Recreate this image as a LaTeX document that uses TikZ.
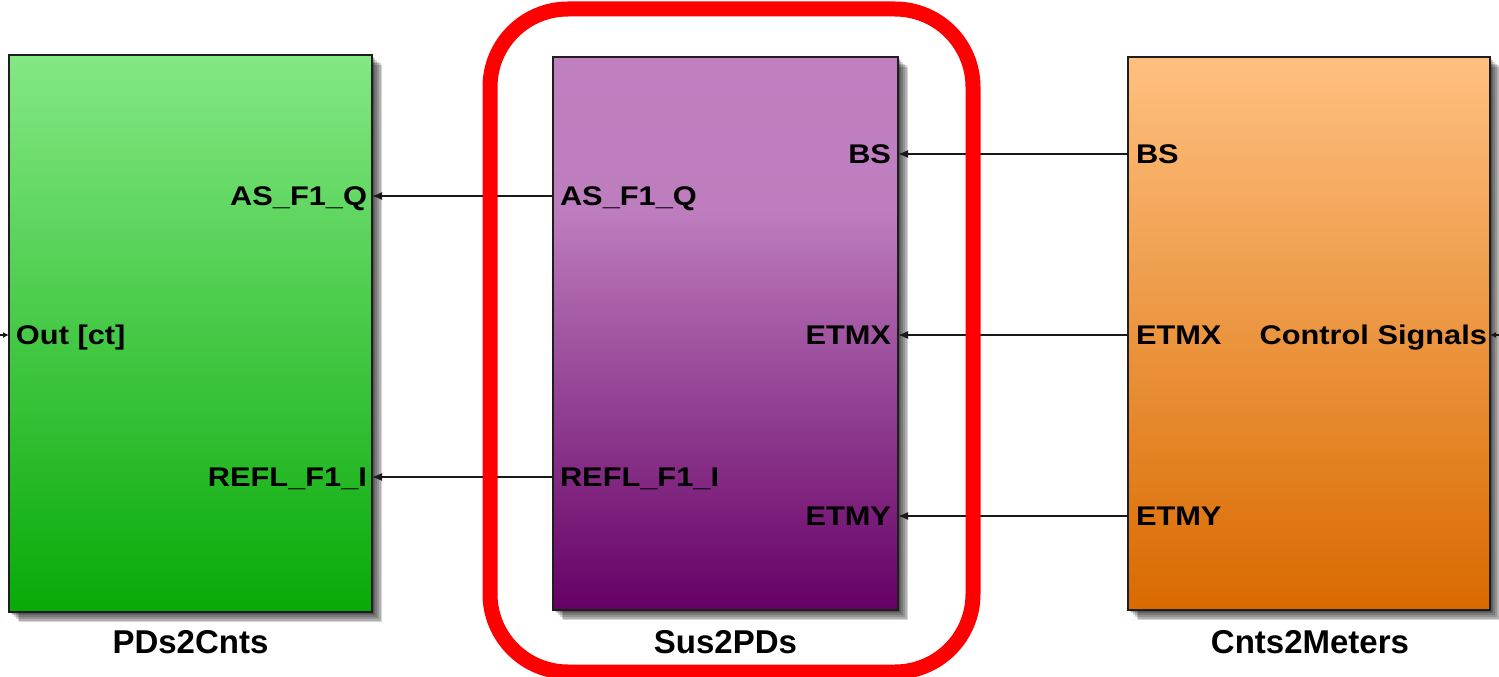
\documentclass[tikz,border=0pt]{standalone}
\usepackage{fontspec}
\setmainfont{Liberation Sans}
\newfontfamily\portfont{Liberation Sans}[FakeStretch=1.14]
\usetikzlibrary{arrows.meta,backgrounds}

\definecolor{greentop}{RGB}{132,232,132}
\definecolor{greenmid}{RGB}{88,212,88}
\definecolor{greenbot}{RGB}{8,170,8}
\definecolor{orngtop}{RGB}{254,192,128}
\definecolor{orngmid}{RGB}{242,164,94}
\definecolor{orngbot}{RGB}{217,106,0}
\definecolor{edgecol}{RGB}{30,30,30}
\definecolor{sigcol}{RGB}{25,25,25}

% purple block: light over its upper part, then darkening downwards
% (path box is mapped onto 25bp..75bp)
\pgfdeclareverticalshading{purpshade}{100bp}{%
  color(0bp)=(rgb,255:red,102;green,0;blue,102);
  color(25bp)=(rgb,255:red,102;green,0;blue,102);
  color(40bp)=(rgb,255:red,138;green,52;blue,138);
  color(52.5bp)=(rgb,255:red,168;green,95;blue,168);
  color(61bp)=(rgb,255:red,190;green,125;blue,190);
  color(75bp)=(rgb,255:red,192;green,128;blue,192);
  color(100bp)=(rgb,255:red,192;green,128;blue,192)}

% soft drop shadow behind a block node
\newcommand{\blockshadow}[1]{%
  \begin{pgfonlayer}{background}
    \foreach \i in {1,...,6}
      \fill[black, opacity=0.17]
        ([shift={(\i*1.7,\i*1.7)}]#1.north west) rectangle
        ([shift={(\i*1.7,\i*1.7)}]#1.south east);
  \end{pgfonlayer}}

\begin{document}
\begin{tikzpicture}[x=1pt,y=-1pt,
  block/.style={draw=edgecol, line width=2pt, inner sep=0pt, outer sep=0pt},
  port/.style={font=\portfont\bfseries\fontsize{27}{29}\selectfont,
    text height=19.5pt, text depth=0pt, inner ysep=0pt, outer sep=0pt},
  title/.style={font=\bfseries\fontsize{33}{35}\selectfont, anchor=base},
  sig/.style={draw=sigcol, line width=1.6pt, -{Latex[length=10pt,width=8pt]}},
  frame/.style={draw=red, line width=15pt, rounded corners=78pt,
    inner sep=0pt, outer sep=0pt}]
\useasboundingbox (0,0) rectangle (1499,677);

% blocks
\node[block, minimum width=363pt, minimum height=557pt,
  top color=greentop, middle color=greenmid, bottom color=greenbot]
  (pd) at (190.5,333.5) {};
\node[block, minimum width=345pt, minimum height=553pt, shading=purpshade]
  (sus) at (725.5,333.5) {};
\node[block, minimum width=362pt, minimum height=553pt,
  top color=orngtop, middle color=orngmid, bottom color=orngbot]
  (cm) at (1309,333.5) {};
\blockshadow{pd}
\blockshadow{sus}
\blockshadow{cm}

% block titles
\node[title] (tpd) at (190.5,653) {PDs2Cnts};
\node[title] (tsus) at (725.5,653) {Sus2PDs};
\node[title] (tcm) at (1310,653) {Cnts2Meters};

% ports of PDs2Cnts
\node[port, anchor=east, inner xsep=5pt] (pdAS) at (372,196) {AS\_F1\_Q};
\node[port, anchor=east, inner xsep=5pt] (pdREFL) at (372,477) {REFL\_F1\_I};
\node[port, anchor=west, inner xsep=7pt] (pdOut) at (9,335) {Out [ct]};

% ports of Sus2PDs
\node[port, anchor=west, inner xsep=7pt] (susAS) at (553,196) {AS\_F1\_Q};
\node[port, anchor=west, inner xsep=7pt] (susREFL) at (553,477) {REFL\_F1\_I};
\node[port, anchor=east, inner xsep=7pt] (susBS) at (898,154) {BS};
\node[port, anchor=east, inner xsep=7pt] (susETMX) at (898,335) {ETMX};
\node[port, anchor=east, inner xsep=7pt] (susETMY) at (898,516) {ETMY};

% ports of Cnts2Meters
\node[port, anchor=west, inner xsep=8pt] (cmBS) at (1128,154) {BS};
\node[port, anchor=west, inner xsep=8pt] (cmETMX) at (1128,335) {ETMX};
\node[port, anchor=west, inner xsep=8pt] (cmETMY) at (1128,516) {ETMY};
\node[port, anchor=east, inner xsep=3pt] (cmCtl) at (1490,335) {Control Signals};

% free ends of the outer signal lines
\coordinate (inL) at (0,335);
\coordinate (inR) at (1499,335);

% signal lines
\draw[sig] (susAS.west) -- (pdAS.east);
\draw[sig] (susREFL.west) -- (pdREFL.east);
\draw[sig] (cmBS.west) -- (susBS.east);
\draw[sig] (cmETMX.west) -- (susETMX.east);
\draw[sig] (cmETMY.west) -- (susETMY.east);
\draw[sig, -{Latex[length=6pt,width=6pt]}] (inL) -- (pdOut.west);
\draw[sig, -{Latex[length=6pt,width=6pt]}] (inR) -- (cmCtl.east);

% highlight frame around Sus2PDs
\node[frame, minimum width=483pt, minimum height=663pt] (hl) at (731.5,340.5) {};
\end{tikzpicture}
\end{document}
